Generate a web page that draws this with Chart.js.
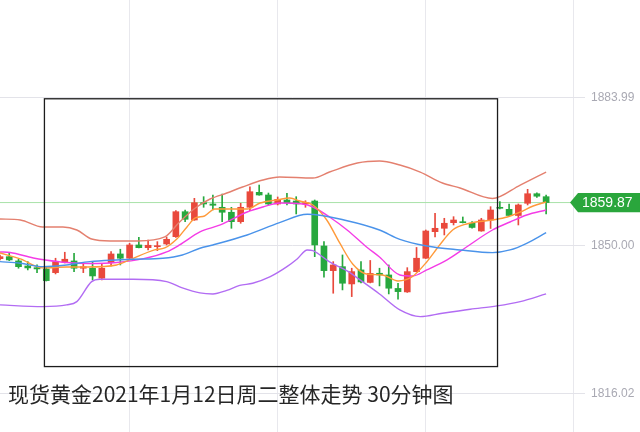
<!DOCTYPE html>
<html>
<head>
<meta charset="utf-8">
<script src="https://cdn.jsdelivr.net/npm/chart.js@4"></script>
<style>
	html, body { margin: 0; background: #fff; }
	#wrap { width: 640px; height: 432px; position: relative; }
</style>
</head>
<body>
<div id="wrap"><canvas id="lienzo"></canvas></div>
<script>
// 现货黄金 30分钟 K线
const candleOpen  = [1847.02,1847.48,1846.50,1845.35,1844.96,1844.67,1843.82,1846.27,1846.50,1844.83,
                     1844.83,1842.54,1846.11,1848.10,1847.12,1850.16,1849.54,1849.77,1850.39,1852.06,
                     1857.78,1855.88,1859.84,1859.55,1858.79,1857.65,1855.49,1858.79,1862.22,1861.61,
                     1859.55,1860.46,1860.23,1859.55,1860.23,1849.93,1844.28,1845.19,1841.23,1844.44,
                     1841.58,1843.68,1843.29,1840.20,1839.40,1844.05,1847.12,1853.20,1853.98,1855.26,
                     1855.49,1855.13,1853.36,1855.88,1858.79,1858.33,1856.91,1859.71,1861.90,1861.22];
const candleHigh  = [1847.87,1848.26,1846.89,1846.34,1845.58,1845.19,1847.12,1848.49,1848.26,1845.97,
                     1846.34,1845.81,1848.63,1849.18,1850.55,1851.92,1851.30,1850.92,1851.99,1858.01,
                     1858.17,1860.85,1861.22,1861.61,1861.83,1858.79,1859.71,1863.50,1863.89,1862.06,
                     1861.15,1861.99,1861.22,1860.30,1860.46,1850.92,1846.34,1847.87,1844.83,1846.34,
                     1846.61,1844.83,1845.58,1841.39,1844.96,1849.59,1853.59,1857.42,1856.27,1856.64,
                     1856.57,1855.49,1856.27,1858.93,1860.07,1859.55,1859.55,1862.91,1862.13,1861.61];
const candleLow   = [1846.73,1846.57,1844.83,1844.44,1843.82,1841.90,1843.52,1846.04,1844.05,1843.82,
                     1842.15,1842.15,1845.35,1845.58,1847.05,1849.47,1849.02,1848.86,1850.16,1851.88,
                     1855.49,1855.80,1858.79,1858.17,1855.49,1853.98,1855.13,1858.01,1861.55,1859.32,
                     1859.32,1859.32,1857.26,1858.79,1847.48,1842.77,1839.10,1839.86,1838.33,1841.46,
                     1841.46,1840.78,1838.94,1837.73,1839.29,1843.98,1847.07,1851.99,1852.45,1854.74,
                     1855.20,1853.98,1853.30,1853.94,1858.40,1856.80,1854.74,1859.32,1861.03,1857.26];
const candleClose = [1847.48,1846.73,1845.19,1844.90,1844.67,1841.99,1846.34,1846.89,1844.83,1845.19,
                     1843.06,1844.83,1848.10,1847.12,1850.16,1849.54,1850.09,1850.00,1851.46,1857.78,
                     1856.04,1859.84,1859.55,1859.25,1857.65,1855.49,1858.79,1862.36,1861.61,1859.55,
                     1860.62,1859.84,1859.55,1859.84,1850.16,1844.28,1845.58,1841.39,1844.05,1841.69,
                     1843.64,1843.29,1840.25,1839.47,1844.05,1847.12,1853.36,1853.98,1855.13,1855.88,
                     1855.26,1854.17,1855.88,1858.17,1858.56,1856.91,1859.32,1861.90,1861.33,1859.87];

// 布林带 上轨 / 中轨 / 下轨 and 均线, sampled at candle positions
const upperAt  = [0,2.2,4.6,6.8,8.3,9.9,11.9,14.9,17.8,19.4,21.1,22.7,24.5,26.2,28.4,30.2,33.8,35.6,38.6,41.0,43.2,45.4,47.8,49.7,53.2,56.2,59];
const upperVal = [1856.11,1855.88,1854.28,1854.28,1853.59,1851.53,1851.08,1851.08,1851.99,1855.42,1858.63,1860.69,1862.06,1863.44,1865.04,1865.73,1865.50,1866.87,1868.93,1869.39,1868.47,1866.87,1864.35,1863.21,1860.80,1863.89,1866.87];
const midAt    = [0,2.2,4.6,7.2,9.7,12.6,14.4,17.6,19.7,21.6,23.0,26.7,30.2,33.2,37.5,41.0,43.2,46.1,49.7,53.2,55.1,56.9,59];
const midVal   = [1846.34,1845.97,1845.19,1845.58,1846.34,1846.73,1846.89,1847.12,1847.87,1849.40,1850.16,1852.45,1855.26,1857.20,1855.72,1853.59,1851.46,1849.93,1849.02,1848.40,1849.02,1850.55,1852.98];
const lowerAt  = [0,4.6,7.2,8.3,9.9,10.8,14.4,18.0,19.7,21.6,23.0,24.5,25.9,27.3,29.2,31.0,32.1,33.2,33.8,35.6,37.5,38.9,41.0,43.2,45.4,47.8,50.8,53.7,56.2,59];
const lowerVal = [1836.43,1836.04,1836.43,1837.18,1841.76,1842.31,1842.31,1841.76,1840.32,1839.17,1838.94,1839.75,1840.89,1841.39,1842.90,1845.19,1846.96,1849.02,1848.86,1846.27,1844.21,1842.15,1838.94,1835.28,1833.75,1834.53,1835.44,1836.20,1837.18,1838.94];
const maFastAt  = [0,2.2,4.6,7.2,9.4,12.6,14.0,16.7,17.8,19.1,20.2,21.1,22.1,23.2,25.2,26.7,28.1,29.9,31.3,32.4,33.8,35.3,36.7,38.1,39.6,41.3,43.0,44.5,46.1,47.5,48.9,50.4,53.2,54.8,56.2,57.6,59];
const maFastVal = [1848.33,1846.96,1844.90,1845.12,1845.12,1845.58,1846.73,1849.02,1849.47,1851.53,1854.28,1856.34,1856.80,1858.40,1858.40,1858.40,1859.77,1860.46,1860.92,1860.23,1859.32,1855.88,1850.62,1845.81,1843.52,1843.29,1841.92,1842.84,1846.27,1850.16,1853.59,1854.97,1855.88,1856.57,1857.71,1859.09,1860.00];
const maSlowAt  = [0,1.1,3.6,4.9,7.2,9.7,12.6,15.4,18.0,19.4,21.6,23.8,26.7,28.4,30.2,32.7,33.8,35.6,37.5,39.6,41.0,43.2,44.6,46.1,48.3,50.4,53.2,55.1,56.9,59];
const maSlowVal = [1848.56,1848.44,1847.18,1846.73,1846.15,1845.93,1846.15,1846.96,1848.56,1850.16,1853.14,1854.74,1857.71,1858.86,1859.77,1859.55,1858.86,1856.57,1853.59,1849.70,1847.41,1843.29,1843.06,1844.44,1846.73,1849.70,1853.59,1855.42,1857.03,1858.17];

const priceTicks = [1816.02, 1850.00, 1883.99];
const timeGrid = [14, 30, 46, 62];
const boxIdx = [4.8, 53.75];
const boxPrice = [1822.3, 1883.65];
const titleText = '现货黄金2021年1月12日周二整体走势 30分钟图';

const RED = '#e9493c', GREEN = '#27a83e';

const idx = candleOpen.map((_, i) => i);
const lastClose = candleClose[candleClose.length - 1];
const candleColor = ctx => candleClose[ctx.dataIndex] >= candleOpen[ctx.dataIndex] ? RED : GREEN;
const pts = (at, val) => at.map((x, i) => ({x: x, y: val[i]}));
const lineSet = (label, at, val, color) => ({
	type: 'line', label: label, data: pts(at, val),
	borderColor: color, borderWidth: 1.4, pointRadius: 0,
	cubicInterpolationMode: 'monotone', order: 0
});
const noPad = s => { s.paddingTop = 0; s.paddingBottom = 0; s.paddingLeft = 0; s.paddingRight = 0; };

const extras = {
	id: 'extras',
	beforeDatasetsDraw(chart) {
		const c = chart.ctx, y = chart.scales.y.getPixelForValue(lastClose);
		c.save();
		c.strokeStyle = '#a8e2a8';
		c.lineWidth = 1;
		c.beginPath(); c.moveTo(0, y); c.lineTo(572, y); c.stroke();
		c.restore();
	},
	afterDatasetsDraw(chart) {
		const c = chart.ctx, sx = chart.scales.x, sy = chart.scales.y;
		const l = sx.getPixelForValue(boxIdx[0]), r = sx.getPixelForValue(boxIdx[1]);
		const t = sy.getPixelForValue(boxPrice[1]), b = sy.getPixelForValue(boxPrice[0]);
		c.save();
		c.strokeStyle = '#1c1c1c';
		c.lineWidth = 1.3;
		c.strokeRect(l, t, r - l, b - t);
		c.restore();
	},
	afterDraw(chart) {
		const c = chart.ctx, y = chart.scales.y.getPixelForValue(lastClose);
		c.save();
		// price tag
		c.fillStyle = '#2aa63c';
		c.beginPath();
		c.moveTo(570, y);
		c.lineTo(578, y - 9.7);
		c.lineTo(640, y - 9.7);
		c.lineTo(640, y + 9.7);
		c.lineTo(578, y + 9.7);
		c.closePath();
		c.fill();
		c.fillStyle = '#fff';
		c.font = '14px "Liberation Sans", Arial, sans-serif';
		c.textBaseline = 'middle';
		c.fillText(lastClose.toFixed(2), 582, y + 0.5);
		// title
		c.fillStyle = '#262626';
		c.font = '21px "Noto Sans CJK SC", sans-serif';
		c.textBaseline = 'alphabetic';
		c.fillText(titleText, 8, 402);
		c.restore();
	}
};

const chart = new Chart(document.getElementById('lienzo'), {
	type: 'bar',
	data: {
		datasets: [
			{ type: 'bar', label: 'wick', data: idx.map(i => ({x: i, y: [candleLow[i], candleHigh[i]]})),
			  backgroundColor: candleColor, barThickness: 1, grouped: false, order: 2 },
			{ type: 'bar', label: 'body', data: idx.map(i => ({x: i, y: [candleOpen[i], candleClose[i]]})),
			  backgroundColor: candleColor, barThickness: 6, minBarLength: 1, grouped: false, order: 1 },
			lineSet('上轨', upperAt, upperVal, '#e4806f'),
			lineSet('中轨', midAt, midVal, '#4a93ea'),
			lineSet('下轨', lowerAt, lowerVal, '#b26cf3'),
			lineSet('MA5', maFastAt, maFastVal, '#ff9a3a'),
			lineSet('MA10', maSlowAt, maSlowVal, '#f43ce6')
		]
	},
	options: {
		responsive: true,
		maintainAspectRatio: false,
		animation: false,
		layout: { padding: 0 },
		plugins: { legend: { display: false }, tooltip: { enabled: false } },
		scales: {
			x: {
				type: 'linear', min: 0, max: 63.2, offset: false,
				afterBuildTicks: s => { s.ticks = timeGrid.map(v => ({value: v})); },
				afterFit: s => { s.height = 0; noPad(s); },
				ticks: { display: false },
				grid: { color: '#e8e8ed', drawTicks: false, offset: false },
				border: { display: false }
			},
			y: {
				position: 'right', min: 1807.31, max: 1906.28,
				afterBuildTicks: s => { s.ticks = priceTicks.map(v => ({value: v})); },
				afterFit: s => { s.width = 55; noPad(s); },
				ticks: { color: '#a9a9b3', padding: 6, font: { size: 12, family: '"Liberation Sans", Arial, sans-serif' },
				         callback: v => Number(v).toFixed(2) },
				grid: { color: '#e3e3e9', drawTicks: false },
				border: { display: false }
			}
		}
	},
	plugins: [extras]
});
</script>
</body>
</html>
